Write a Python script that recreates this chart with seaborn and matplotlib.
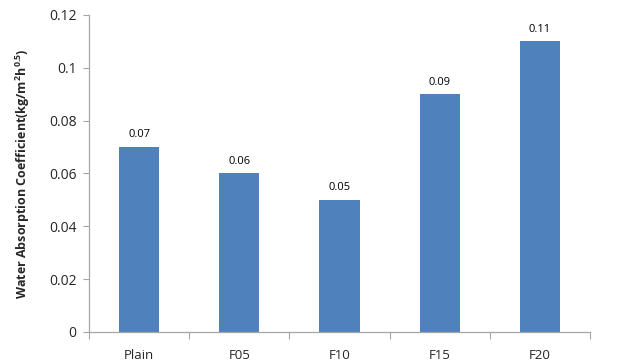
import matplotlib
matplotlib.use("Agg")
import matplotlib.pyplot as plt
import matplotlib.ticker as mticker
import seaborn as sns
import pandas as pd
import numpy as np

mixes = ["Plain", "F05", "F10", "F15", "F20"]
coefficients = [0.07, 0.06, 0.05, 0.09, 0.11]
y_ticks = [0, 0.02, 0.04, 0.06, 0.08, 0.1, 0.12]

sns.set_theme(style="white")
plt.rcParams["font.family"] = ["Open Sans", "DejaVu Sans"]
plt.rcParams["mathtext.fontset"] = "custom"
plt.rcParams["mathtext.bf"] = "Open Sans:bold"
plt.rcParams["mathtext.rm"] = "Open Sans"

df = pd.DataFrame({"mix": mixes, "coef": coefficients})

fig = plt.figure(figsize=(6.27, 3.64), dpi=100)
ax = fig.add_axes([0.142, 0.088, 0.799, 0.871])

sns.barplot(data=df, x="mix", y="coef", color="#4F81BD", width=0.4,
            saturation=1, ax=ax, edgecolor="none")

for i, v in enumerate(coefficients):
    ax.text(i, v + 0.0025, f"{v:g}", ha="center", va="bottom", fontsize=8,
            color="black")

ax.set_xlim(-0.5, len(mixes) - 0.5)
ax.set_ylim(0, 0.12)
ax.set_yticks(y_ticks)
ax.yaxis.set_major_formatter(mticker.FuncFormatter(lambda v, p: f"{v:g}"))

ax.set_xlabel("")
ax.set_ylabel(r"Water Absorption Coefficient(kg/m$^{\mathbf{2}}$h$^{\mathbf{0.5}}$)",
              fontsize=9, fontweight="bold", labelpad=12)

for side in ["top", "right"]:
    ax.spines[side].set_visible(False)
for side in ["left", "bottom"]:
    ax.spines[side].set_color("#A6A6A6")
    ax.spines[side].set_linewidth(0.9)

ax.tick_params(axis="y", which="major", left=True, length=4, width=0.8,
               color="#A6A6A6", labelsize=10, pad=5)
ax.tick_params(axis="x", which="major", length=0, labelsize=9.5, pad=12)
ax.set_xticks(np.arange(-0.5, len(mixes)), minor=True)
ax.tick_params(axis="x", which="minor", bottom=True, length=5, width=0.8,
               color="#A6A6A6")

fig.savefig("out.png", dpi=100)
